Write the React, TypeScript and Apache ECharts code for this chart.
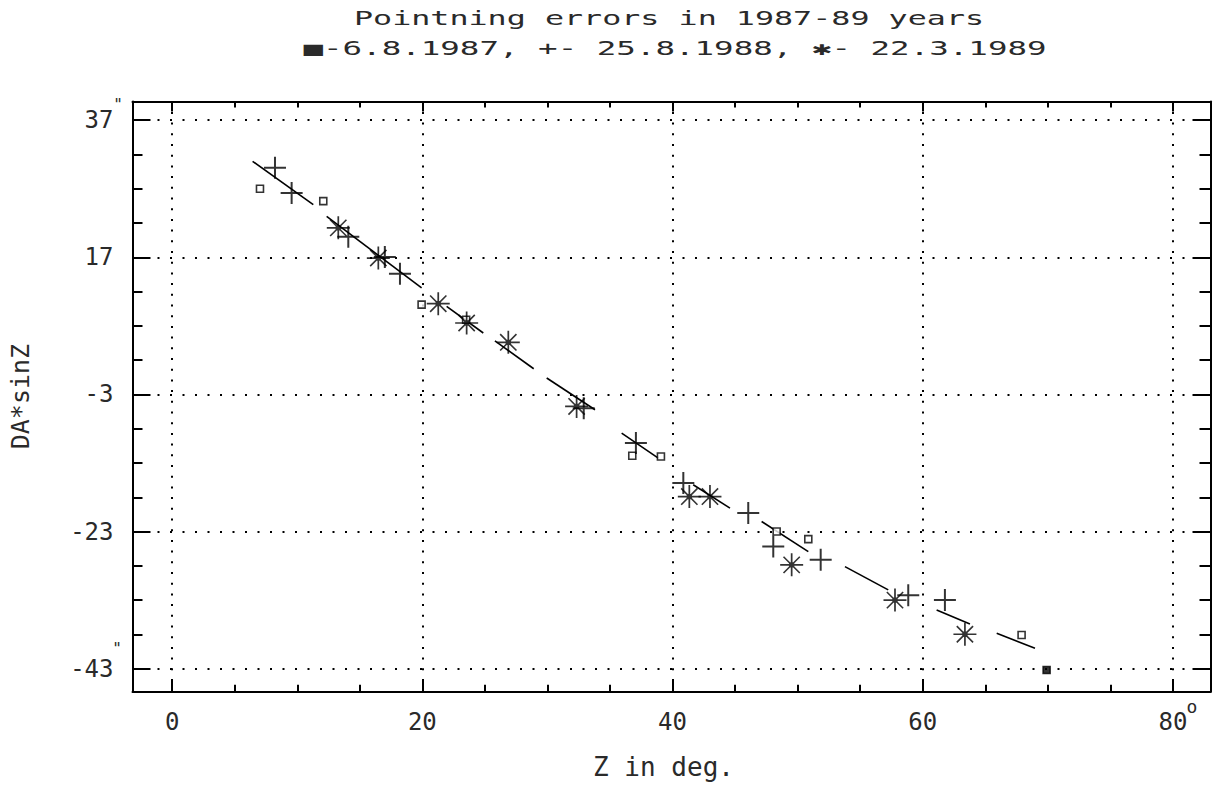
import React, { useEffect, useRef } from "react";
import * as echarts from "echarts";

// ---- axis ticks / labels ----
const xMajor = [0, 20, 40, 60, 80];
const xMinor = [5, 10, 15, 25, 30, 35, 45, 50, 55, 65, 70, 75];
const yMajor = [-43, -23, -3, 17, 37];
const yMinor = [-38, -33, -28, -18, -13, -8, 2, 7, 12, 22, 27, 32];

// ---- data: 6.8.1987 (squares) ----
const sqX = [7.02, 12.08, 19.94, 23.5, 36.78, 39.07, 48.32, 50.85, 67.9, 69.9];
const sqY = [27.0, 25.2, 10.1, 7.9, -11.95, -12.05, -23.0, -24.1, -38.1, -43.2];

// ---- data: 25.8.1988 (+) ----
const plusX = [8.22, 9.55, 14.08, 17.0, 18.21, 32.9, 37.07, 40.86, 46.05, 48.05, 51.84, 58.84, 61.77];
const plusY = [30.05, 26.4, 20.0, 17.05, 14.6, -5.0, -10.1, -15.93, -20.31, -25.19, -27.13, -32.3, -32.97];

// ---- data: 22.3.1989 (*) ----
const starX = [13.28, 16.48, 21.27, 23.54, 26.87, 32.33, 41.34, 42.99, 49.52, 57.78, 63.37];
const starY = [21.3, 16.9, 10.24, 7.42, 4.6, -4.75, -17.9, -17.9, -27.86, -33.0, -37.98];

// ---- fitted curve, drawn as broken segments ----
const fitX1 = [6.43, 12.35, 21.94, 25.8, 29.94, 35.93, 41.65, 47.12, 53.78, 61.11, 65.91];
const fitY1 = [31.0, 22.98, 9.85, 4.8, -0.6, -8.63, -16.18, -21.54, -28.11, -34.43, -37.83];
const fitX2 = [11.28, 19.94, 24.87, 28.9, 33.8, 38.86, 44.59, 50.85, 57.24, 63.77, 68.97];
const fitY2 = [24.7, 12.53, 5.96, 0.75, -5.23, -12.28, -19.58, -25.92, -31.51, -36.47, -40.02];

const X_MIN = -3.17;
const X_MAX = 83.0;
const Y_MIN = -46.36;
const Y_MAX = 39.73;

const TITLE = "Pointning errors in 1987-89 years";
const SUBTITLE = "\u25A0-6.8.1987, +- 25.8.1988, \u2731- 22.3.1989";

const FONT = '"DejaVu Sans Mono", "Liberation Mono", monospace';
const INK = "#2a2a2a";

const PLUS_PATH =
  "path://M-11,-1L11,-1L11,1L-11,1ZM-1,-11L1,-11L1,11L-1,11Z";
const STAR_PATH =
  "path://M-12,-0.9L12,-0.9L12,0.9L-12,0.9Z" +
  "M-0.9,-12L0.9,-12L0.9,12L-0.9,12Z" +
  "M-9.1,-7.9L-7.9,-9.1L9.1,7.9L7.9,9.1Z" +
  "M7.9,-9.1L9.1,-7.9L-7.9,9.1L-9.1,7.9Z" +
  "M-2.8,-2.8L2.8,-2.8L2.8,2.8L-2.8,2.8Z";

function xAxis(position: string, ticks: number[], len: number, main: boolean) {
  return {
    type: "value",
    position,
    min: X_MIN,
    max: X_MAX,
    splitLine: { show: false },
    axisLine: { show: main, onZero: false, lineStyle: { color: "#000", width: 2 } },
    axisTick: {
      show: true,
      inside: true,
      length: len,
      customValues: ticks,
      lineStyle: { color: "#000", width: 2 },
    },
    axisLabel: { show: false },
  };
}

function yAxis(position: string, ticks: number[], len: number, main: boolean) {
  return {
    type: "value",
    position,
    min: Y_MIN,
    max: Y_MAX,
    splitLine: { show: false },
    axisLine: { show: main, onZero: false, lineStyle: { color: "#000", width: 2 } },
    axisTick: {
      show: true,
      inside: true,
      length: len,
      customValues: ticks,
      lineStyle: { color: "#000", width: 2 },
    },
    axisLabel: { show: false },
  };
}

export default function App() {
  const ref = useRef<HTMLDivElement>(null);

  useEffect(() => {
    if (!ref.current) return;
    const chart = echarts.init(ref.current, undefined, { renderer: "svg" });

    const xBottom: any = xAxis("bottom", xMajor, 12, true);
    xBottom.axisLabel = {
      show: true,
      customValues: xMajor,
      margin: 18,
      fontFamily: FONT,
      fontSize: 24,
      color: INK,
    };
    xBottom.name = "Z in deg.";
    xBottom.nameLocation = "middle";
    xBottom.nameGap = 62;
    xBottom.nameTextStyle = { fontFamily: FONT, fontSize: 26, color: INK, padding: [0, 16, 0, 0] };

    const yLeft: any = yAxis("left", yMajor, 18, true);
    yLeft.axisLabel = {
      show: true,
      customValues: yMajor,
      margin: 19,
      fontFamily: FONT,
      fontSize: 24,
      color: INK,
    };
    yLeft.name = "DA*sinZ";
    yLeft.nameLocation = "middle";
    yLeft.nameGap = 100;
    yLeft.nameRotate = 90;
    yLeft.nameTextStyle = { fontFamily: FONT, fontSize: 25, color: INK };

    const gridMarks = [
      ...xMajor.map((v) => ({
        xAxis: v,
        lineStyle: { type: [2, 8.7], width: 2, color: "#000" },
      })),
      ...yMajor.map((v) => ({
        yAxis: v,
        lineStyle: { type: [2, 10.5], width: 2, color: "#000" },
      })),
    ];

    const option: any = {
      animation: false,
      backgroundColor: "#fff",
      grid: {
        left: 132.5,
        right: 4.5,
        top: 101.5,
        bottom: 101.3,
        containLabel: false,
        outerBoundsMode: "none",
      },
      xAxis: [
        xBottom,
        xAxis("bottom", xMinor, 7, false),
        xAxis("top", xMajor, 10, true),
        xAxis("top", xMinor, 6, false),
      ],
      yAxis: [
        yLeft,
        yAxis("left", yMinor, 10, false),
        yAxis("right", yMajor, 18, true),
        yAxis("right", yMinor, 11, false),
      ],
      series: [
        {
          type: "scatter",
          name: "grid",
          data: [],
          silent: true,
          markLine: {
            silent: true,
            symbol: ["none", "none"],
            label: { show: false },
            data: gridMarks,
            z: 1,
          },
        },
        {
          type: "lines",
          coordinateSystem: "cartesian2d",
          xAxisIndex: 0,
          yAxisIndex: 0,
          silent: true,
          z: 3,
          lineStyle: { color: "#000", width: 1.6, opacity: 1, curveness: 0 },
          data: fitX1.map((x, i) => ({
            coords: [
              [x, fitY1[i]],
              [fitX2[i], fitY2[i]],
            ],
          })),
        },
        {
          type: "scatter",
          name: "6.8.1987",
          z: 4,
          symbol: "rect",
          symbolSize: 7,
          itemStyle: { color: "#fff", borderColor: "#000", borderWidth: 1.6 },
          data: sqX.map((x, i) =>
            i === sqX.length - 1
              ? { value: [x, sqY[i]], itemStyle: { color: "#000" } }
              : { value: [x, sqY[i]] }
          ),
        },
        {
          type: "scatter",
          name: "25.8.1988",
          z: 5,
          symbol: PLUS_PATH,
          symbolSize: 22,
          itemStyle: { color: "#000" },
          data: plusX.map((x, i) => [x, plusY[i]]),
        },
        {
          type: "scatter",
          name: "22.3.1989",
          z: 5,
          symbol: STAR_PATH,
          symbolSize: 23,
          itemStyle: { color: "#000" },
          data: starX.map((x, i) => [x, starY[i]]),
        },
      ],
      graphic: [
        {
          type: "text",
          x: 669,
          y: 18,
          scaleX: 1.67,
          style: {
            text: TITLE,
            fontFamily: FONT,
            fontSize: 19,
            fill: INK,
            align: "center",
            verticalAlign: "middle",
            textAlign: "center",
            textVerticalAlign: "middle",
          },
        },
        {
          type: "text",
          x: 675,
          y: 48,
          scaleX: 1.71,
          style: {
            text: SUBTITLE,
            fontFamily: FONT,
            fontSize: 19,
            fill: INK,
            align: "center",
            verticalAlign: "middle",
            textAlign: "center",
            textVerticalAlign: "middle",
          },
        },
        {
          type: "text",
          x: 118,
          y: 104,
          style: {
            text: '"',
            fontFamily: FONT,
            fontSize: 16,
            fill: INK,
            align: "center",
            verticalAlign: "middle",
          },
        },
        {
          type: "text",
          x: 117,
          y: 648,
          style: {
            text: '"',
            fontFamily: FONT,
            fontSize: 16,
            fill: INK,
            align: "center",
            verticalAlign: "middle",
          },
        },
        {
          type: "text",
          x: 1192,
          y: 706,
          style: {
            text: "o",
            fontFamily: FONT,
            fontSize: 18,
            fill: INK,
            align: "center",
            verticalAlign: "middle",
          },
        },
      ],
    };

    chart.setOption(option);
    return () => chart.dispose();
  }, []);

  return (
    <div
      ref={ref}
      style={{ position: "fixed", left: 0, top: 0, width: 1215, height: 793, background: "#fff" }}
    />
  );
}
